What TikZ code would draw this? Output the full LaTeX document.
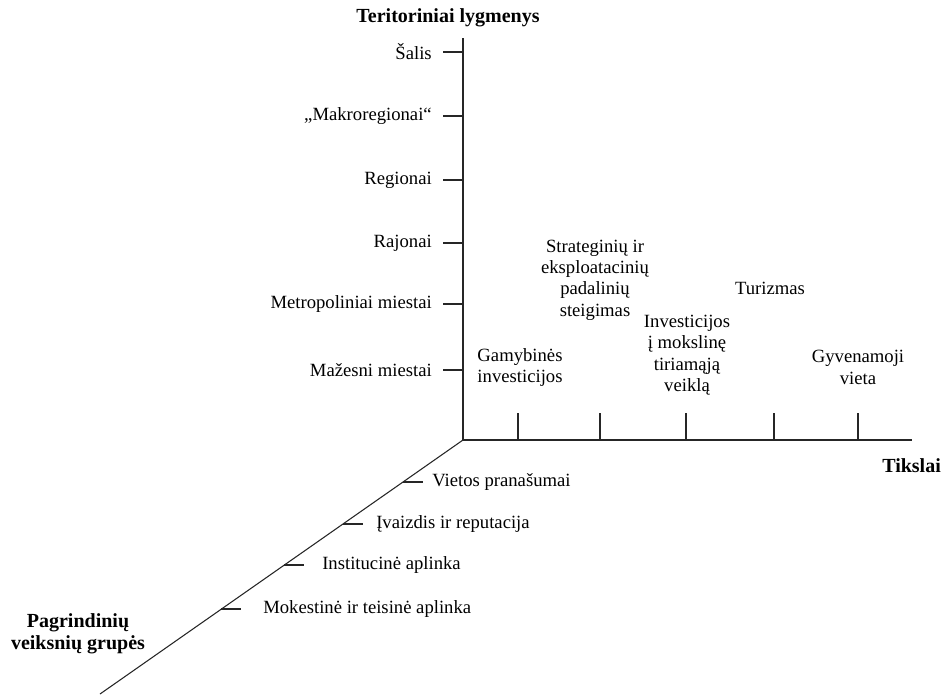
\documentclass[tikz,border=0pt]{standalone}
\usepackage{fontspec}
\setmainfont{Liberation Serif}
\usetikzlibrary{calc}
\begin{document}
\begin{tikzpicture}[x=0.75pt,y=-0.75pt,
  axis/.style={draw=black!85, line width=0.8pt},
  tick/.style={draw=black!85, line width=0.8pt},
  lbl/.style={inner sep=0pt, font=\fontsize{14}{16}\selectfont},
  ttl/.style={inner sep=0pt, font=\fontsize{15}{16.5}\selectfont\bfseries, align=center},
  goal/.style={lbl, align=center}]
\useasboundingbox (0,0) rectangle (944,694);

% axes
\coordinate (o) at (463,440);
\coordinate (ytop) at (463,38);
\coordinate (xend) at (912,440);
\coordinate (zend) at (100,694);
\draw[axis] (ytop) -- (o) -- (xend);
\draw[axis] (o) -- (zend);

% axis titles
\node[ttl] (ty) at (448,18) {Teritoriniai lygmenys};
\node[ttl, anchor=west] (tx) at (882,466) {Tikslai};
\node[ttl] (tz) at (78,634) {Pagrindinių\\veiksnių grupės};

% territorial levels
\foreach \yy/\txt [count=\i] in {52/Šalis, 116/„Makroregionai“, 180/Regionai,
    243/Rajonai, 304/Metropoliniai miestai, 370/Mažesni miestai} {
  \coordinate (ly\i) at (463,\yy);
  \draw[tick] (ly\i) -- ++(-20,0) coordinate (lyt\i);
  \node[lbl, anchor=east] (lyl\i) at ([xshift=-8.25pt]lyt\i) {\txt};
}

% goals
\foreach \xx [count=\i] in {518,600,686,774,858} {
  \coordinate (gx\i) at (\xx,440);
  \draw[tick] (gx\i) -- ++(0,-27);
}
\node[goal] (g1) at (520,367.5) {Gamybinės\\investicijos};
\node[goal] (g2) at (595,280) {Strateginių ir\\eksploatacinių\\padalinių\\steigimas};
\node[goal] (g3) at (687,355) {Investicijos\\į mokslinę\\tiriamąją\\veiklą};
\node[goal] (g4) at (770,288) {Turizmas};
\node[goal] (g5) at (858,367.5) {Gyvenamoji\\vieta};

% factor groups along the diagonal axis
\foreach \yy/\lx/\txt [count=\i] in {482/432/Vietos pranašumai,
    524/376/Įvaizdis ir reputacija, 565/322/Institucinė aplinka,
    609/263/Mokestinė ir teisinė aplinka} {
  \coordinate (fz\i) at ($(o)!{(\yy-440)/254}!(zend)$);
  \draw[tick] (fz\i) -- ++(20,0) coordinate (fzt\i);
  \node[lbl, anchor=west] (fzl\i) at (\lx,\yy) {\txt};
}
\end{tikzpicture}
\end{document}
